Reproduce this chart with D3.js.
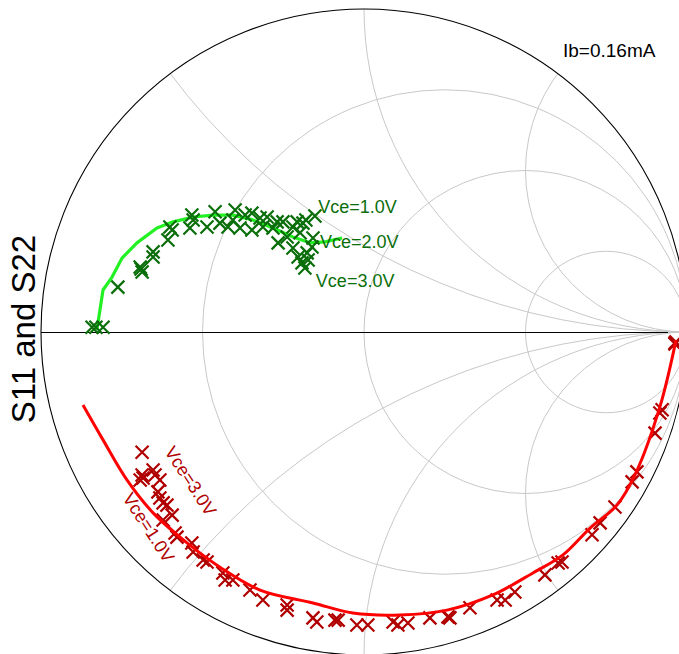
<!DOCTYPE html>
<html>
<head>
<meta charset="utf-8">
<script src="https://cdn.jsdelivr.net/npm/d3@7/dist/d3.min.js"></script>
<style>
  html, body { margin: 0; padding: 0; background: #fff; }
  svg { display: block; font-family: "Liberation Sans", Arial, sans-serif; }
</style>
</head>
<body>
<svg id="chart" width="679" height="654"></svg>
<script>
// Smith chart grid values
const resistanceCircles = [1 / 3, 1, 3];
const reactanceArcs = [0.5, 1, 2, -0.5, -1, -2];

// S11: reflection coefficient points [re, im], one array per Vce
const s11Vce1 = [[-0.842,0.015],[-0.762,0.139],[-0.693,0.201],[-0.653,0.248],[-0.601,0.325],[-0.533,0.362],[-0.461,0.372],[-0.399,0.378],[-0.347,0.368],[-0.300,0.356],[-0.251,0.341],[-0.207,0.341],[-0.180,0.347],[-0.152,0.359]];
const s11Vce2 = [[-0.830,0.015],[-0.690,0.195],[-0.653,0.232],[-0.594,0.316],[-0.529,0.347],[-0.446,0.337],[-0.406,0.347],[-0.368,0.362],[-0.322,0.353],[-0.269,0.341],[-0.238,0.294],[-0.220,0.325],[-0.198,0.307],[-0.189,0.337],[-0.158,0.291]];
const s11Vce3 = [[-0.808,0.015],[-0.687,0.186],[-0.607,0.285],[-0.539,0.322],[-0.486,0.325],[-0.421,0.325],[-0.384,0.322],[-0.347,0.316],[-0.313,0.325],[-0.282,0.322],[-0.266,0.276],[-0.220,0.260],[-0.204,0.232],[-0.192,0.214],[-0.183,0.198],[-0.176,0.245],[-0.173,0.223],[-0.161,0.263]];
// S11 model curve
const s11Model = [[-0.827,0.006],[-0.808,0.130],[-0.780,0.170],[-0.749,0.229],[-0.703,0.276],[-0.641,0.322],[-0.591,0.341],[-0.529,0.356],[-0.467,0.362],[-0.406,0.362],[-0.344,0.347],[-0.282,0.322],[-0.220,0.294],[-0.167,0.276],[-0.121,0.279],[-0.068,0.291]];

// S22: reflection coefficient points [re, im], one array per Vce
const s22Vce1 = [[-0.693,-0.458],[-0.684,-0.452],[-0.638,-0.495],[-0.622,-0.529],[-0.622,-0.582],[-0.406,-0.768],[0.136,-0.901],[0.467,-0.805],[0.706,-0.628],[0.901,-0.313],[0.963,-0.037]];
const s22Vce2 = [[-0.687,-0.443],[-0.647,-0.443],[-0.632,-0.514],[-0.594,-0.567],[-0.579,-0.635],[-0.529,-0.681],[-0.498,-0.706],[-0.437,-0.746],[-0.313,-0.830],[-0.238,-0.861],[-0.158,-0.885],[-0.090,-0.892],[-0.022,-0.907],[0.090,-0.898],[0.260,-0.882],[0.328,-0.854],[0.437,-0.830],[0.601,-0.715],[0.777,-0.542],[0.830,-0.464],[0.916,-0.251],[0.966,-0.031]];
const s22Vce3 = [[-0.687,-0.372],[-0.653,-0.427],[-0.632,-0.458],[-0.610,-0.536],[-0.585,-0.622],[-0.533,-0.653],[-0.486,-0.712],[-0.430,-0.768],[-0.353,-0.799],[-0.238,-0.845],[-0.146,-0.898],[-0.080,-0.892],[0.012,-0.907],[0.105,-0.907],[0.204,-0.885],[0.266,-0.885],[0.412,-0.830],[0.560,-0.752],[0.613,-0.712],[0.731,-0.591],[0.845,-0.433],[0.923,-0.241],[0.963,-0.034]];
// S22 model curve
const s22Model = [[-0.870,-0.226],[-0.808,-0.334],[-0.734,-0.458],[-0.653,-0.560],[-0.548,-0.653],[-0.446,-0.728],[-0.322,-0.799],[-0.158,-0.839],[-0.034,-0.870],[0.111,-0.876],[0.257,-0.861],[0.399,-0.814],[0.523,-0.746],[0.616,-0.690],[0.700,-0.607],[0.783,-0.536],[0.840,-0.440],[0.916,-0.232],[0.966,-0.025]];

// Curve labels: text and anchor point in reflection-coefficient coordinates
const s11Labels = [
  { text: "Vce=1.0V", at: [-0.142, 0.368] },
  { text: "Vce=2.0V", at: [-0.136, 0.260] },
  { text: "Vce=3.0V", at: [-0.149, 0.139] }
];
const s22Labels = [
  { text: "Vce=3.0V", at: [-0.619, -0.370] },
  { text: "Vce=1.0V", at: [-0.749, -0.514] }
];
const biasLabel = "Ib=0.16mA";
const yLabel = "S11 and S22";

const svg = d3.select("#chart");
const cx = 364, cy = 332, R = 323;

const x = d3.scaleLinear().domain([-1, 1]).range([cx - R, cx + R]);
const y = d3.scaleLinear().domain([-1, 1]).range([cy + R, cy - R]);
const rpx = v => x(v) - x(0);

// clip everything grid-related to the unit circle
svg.append("defs").append("clipPath").attr("id", "unit")
  .append("circle").attr("cx", x(0)).attr("cy", y(0)).attr("r", rpx(1));

const grid = svg.append("g").attr("clip-path", "url(#unit)")
  .attr("fill", "none").attr("stroke", "#c8c8c8").attr("stroke-width", 1);

// constant resistance circles
grid.selectAll("circle.r").data(resistanceCircles).join("circle")
  .attr("class", "r")
  .attr("cx", r => x(r / (1 + r)))
  .attr("cy", y(0))
  .attr("r", r => rpx(1 / (1 + r)));

// constant reactance arcs
grid.selectAll("circle.x").data(reactanceArcs).join("circle")
  .attr("class", "x")
  .attr("cx", x(1))
  .attr("cy", v => y(1 / v))
  .attr("r", v => rpx(1 / Math.abs(v)));

// real axis
grid.append("line").attr("x1", x(-1)).attr("x2", x(1)).attr("y1", y(0) + 0.5).attr("y2", y(0) + 0.5);
svg.append("line").attr("x1", x(-1)).attr("x2", x(0.941)).attr("y1", y(0) + 0.5).attr("y2", y(0) + 0.5)
  .attr("stroke", "#000").attr("stroke-width", 1);

// outer boundary
svg.append("circle").attr("cx", x(0)).attr("cy", y(0)).attr("r", rpx(1))
  .attr("fill", "none").attr("stroke", "#000").attr("stroke-width", 1.1);

const polyline = d3.line().x(d => x(d[0])).y(d => y(d[1])).curve(d3.curveLinear);
const smooth = d3.line().x(d => x(d[0])).y(d => y(d[1])).curve(d3.curveCatmullRom.alpha(0.5));

function drawMarkers(data, color) {
  const s = 6.5;
  svg.append("g").selectAll("path").data(data).join("path")
    .attr("d", d => {
      const px = x(d[0]), py = y(d[1]);
      return `M${px - s},${py - s}L${px + s},${py + s}M${px - s},${py + s}L${px + s},${py - s}`;
    })
    .attr("stroke", color).attr("stroke-width", 2.2).attr("fill", "none");
}

// S11 model line and measured markers
svg.append("path").datum(s11Model).attr("d", polyline)
  .attr("fill", "none").attr("stroke", "#22f022").attr("stroke-width", 3.2)
  .attr("stroke-linejoin", "round");
[s11Vce1, s11Vce2, s11Vce3].forEach(s => drawMarkers(s, "#0a6e0a"));

// S22 measured markers and model line
[s22Vce1, s22Vce2, s22Vce3].forEach(s => drawMarkers(s, "#b00000"));
svg.append("path").datum(s22Model).attr("d", smooth)
  .attr("fill", "none").attr("stroke", "#ff0000").attr("stroke-width", 3)
  .attr("stroke-linejoin", "round");

// curve labels
svg.append("g").selectAll("text").data(s11Labels).join("text")
  .attr("x", d => x(d.at[0])).attr("y", d => y(d.at[1]))
  .attr("fill", "#0a6e0a").attr("font-size", 18)
  .text(d => d.text);

svg.append("g").selectAll("text").data(s22Labels).join("text")
  .attr("transform", d => `translate(${x(d.at[0])},${y(d.at[1])}) rotate(57)`)
  .attr("fill", "#b00000").attr("font-size", 18)
  .text(d => d.text);

// bias annotation
svg.append("text").attr("x", 563).attr("y", 57)
  .attr("font-size", 19).attr("fill", "#000").text(biasLabel);

// y-axis title
svg.append("text")
  .attr("transform", `translate(35,${cy - 3}) rotate(-90)`)
  .attr("text-anchor", "middle")
  .attr("font-size", 33).attr("fill", "#000").text(yLabel);
</script>
</body>
</html>
